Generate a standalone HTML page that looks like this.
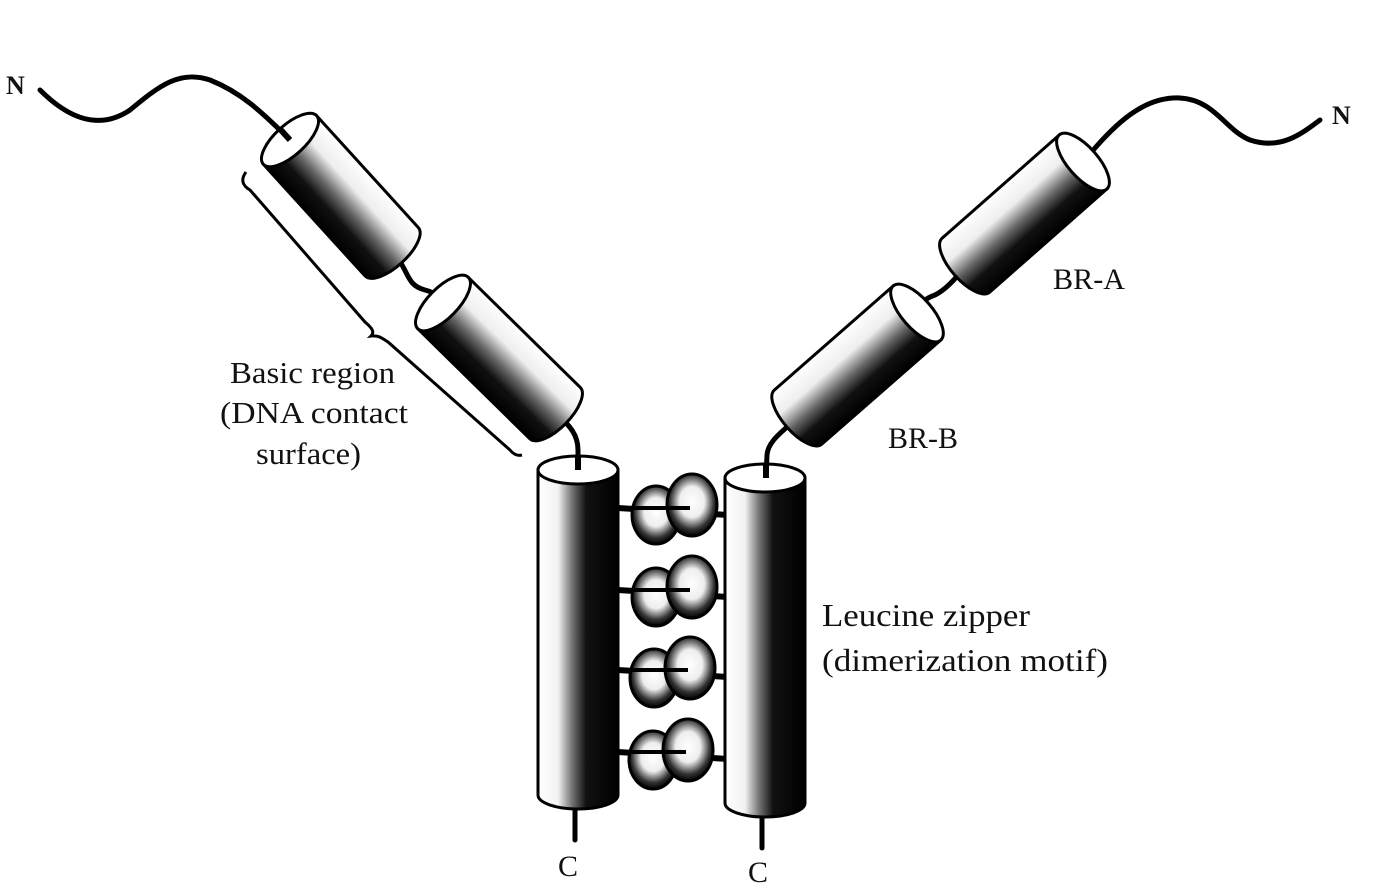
<!DOCTYPE html>
<html><head><meta charset="utf-8"><style>
html,body{margin:0;padding:0;background:#fff;}
svg{display:block;}
text{font-family:"Liberation Serif",serif;fill:#111;}
</style></head><body>
<svg width="1398" height="888" viewBox="0 0 1398 888" xmlns="http://www.w3.org/2000/svg">
<defs>
<linearGradient id="gR" x1="0" y1="0" x2="1" y2="0">
<stop offset="0" stop-color="#fff"/><stop offset="0.25" stop-color="#f2f2f2"/><stop offset="0.42" stop-color="#777"/><stop offset="0.6" stop-color="#111"/><stop offset="1" stop-color="#000"/>
</linearGradient>
<linearGradient id="gL" x1="1" y1="0" x2="0" y2="0">
<stop offset="0" stop-color="#fff"/><stop offset="0.3" stop-color="#eee"/><stop offset="0.55" stop-color="#666"/><stop offset="0.75" stop-color="#111"/><stop offset="1" stop-color="#000"/>
</linearGradient>
<linearGradient id="gT" x1="0" y1="0" x2="1" y2="0">
<stop offset="0" stop-color="#fff"/><stop offset="0.3" stop-color="#eee"/><stop offset="0.55" stop-color="#666"/><stop offset="0.75" stop-color="#111"/><stop offset="1" stop-color="#000"/>
</linearGradient>
<radialGradient id="bead" cx="0.5" cy="0.45" r="0.55">
<stop offset="0" stop-color="#fff"/><stop offset="0.45" stop-color="#eee"/><stop offset="0.8" stop-color="#333"/><stop offset="1" stop-color="#000"/>
</radialGradient>
</defs>

<g fill="none" stroke="#000" stroke-width="5" stroke-linecap="round">
<path d="M40,90 C70,120 100,130 130,110 C160,85 180,70 210,80 C240,92 260,110 290,140"/>
<path d="M1320,120 C1300,135 1280,150 1250,140 C1225,130 1215,100 1180,98 C1140,96 1110,130 1083,162"/>
<path d="M392,252 C410,270 405,285 425,290 C440,294 440,300 443,303"/>
<path d="M966,265 C955,280 945,290 935,295 C920,300 920,308 917,313"/>
<path d="M555,413 C570,425 578,435 578,450 L578,470"/>
<path d="M798,417 C785,430 768,440 767,455 L766,478"/>
<path d="M575,800 L575,840"/>
<path d="M762,808 L762,848"/>
</g>

<path d="M246,172 C240,180 243,186 250,190 L365,322 C372,328 375,332 371,336 C378,335 382,338 388,342 L510,450 C514,455 518,456 522,455" fill="none" stroke="#000" stroke-width="3"/>

<g transform="translate(290,140) rotate(-42.3)">
<path d="M-36,0 L-36,151 A36,15 0 0 0 36,151 L36,0 Z" fill="url(#gL)" stroke="#000" stroke-width="3"/>
<ellipse cx="0" cy="0" rx="36" ry="15" fill="#fff" stroke="#000" stroke-width="3"/>
<line x1="0" y1="-14" x2="0" y2="0" stroke="#000" stroke-width="6"/>
</g>
<g transform="translate(443,303) rotate(-45.5)">
<path d="M-36,0 L-36,157 A36,15 0 0 0 36,157 L36,0 Z" fill="url(#gL)" stroke="#000" stroke-width="3"/>
<ellipse cx="0" cy="0" rx="36" ry="15" fill="#fff" stroke="#000" stroke-width="3"/>
</g>
<g transform="translate(1083,162) rotate(48.6)">
<path d="M-36,0 L-36,156 A36,15 0 0 0 36,156 L36,0 Z" fill="url(#gT)" stroke="#000" stroke-width="3"/>
<ellipse cx="0" cy="0" rx="36" ry="15" fill="#fff" stroke="#000" stroke-width="3"/>
</g>
<g transform="translate(917,313) rotate(48.8)">
<path d="M-36,0 L-36,158 A36,15 0 0 0 36,158 L36,0 Z" fill="url(#gT)" stroke="#000" stroke-width="3"/>
<ellipse cx="0" cy="0" rx="36" ry="15" fill="#fff" stroke="#000" stroke-width="3"/>
</g>

<g stroke="#000" stroke-width="6">
<line x1="618" y1="508" x2="728" y2="515"/>
<line x1="618" y1="590" x2="728" y2="597"/>
<line x1="618" y1="670" x2="728" y2="677"/>
<line x1="618" y1="752" x2="728" y2="759"/>
</g>
<g stroke="#000" stroke-width="3" fill="url(#bead)">
<ellipse cx="656" cy="515" rx="24" ry="29"/><ellipse cx="692" cy="505" rx="25" ry="31"/>
<ellipse cx="656" cy="597" rx="24" ry="29"/><ellipse cx="692" cy="587" rx="25" ry="31"/>
<ellipse cx="654" cy="678" rx="24" ry="29"/><ellipse cx="690" cy="668" rx="25" ry="31"/>
<ellipse cx="653" cy="760" rx="24" ry="29"/><ellipse cx="688" cy="750" rx="25" ry="31"/>
</g>
<g stroke="#000" stroke-width="4">
<line x1="618" y1="508" x2="690" y2="508"/>
<line x1="618" y1="590" x2="690" y2="590"/>
<line x1="618" y1="670" x2="688" y2="670"/>
<line x1="618" y1="752" x2="686" y2="752"/>
</g>

<g transform="translate(578,470)">
<path d="M-40,0 L-40,325 A40,14 0 0 0 40,325 L40,0 Z" fill="url(#gR)" stroke="#000" stroke-width="3"/>
<ellipse cx="0" cy="0" rx="40" ry="14" fill="#fff" stroke="#000" stroke-width="3"/>
<line x1="0" y1="-14" x2="0" y2="0" stroke="#000" stroke-width="6"/>
</g>
<g transform="translate(765,478)">
<path d="M-40,0 L-40,325 A40,14 0 0 0 40,325 L40,0 Z" fill="url(#gR)" stroke="#000" stroke-width="3"/>
<ellipse cx="0" cy="0" rx="40" ry="14" fill="#fff" stroke="#000" stroke-width="3"/>
<line x1="1" y1="-14" x2="1" y2="0" stroke="#000" stroke-width="6"/>
</g>

<text x="6" y="94" font-size="26" font-weight="bold">N</text>
<text x="1332" y="124" font-size="26" font-weight="bold">N</text>
<text x="230" y="383" font-size="31" textLength="165" lengthAdjust="spacingAndGlyphs">Basic region</text>
<text x="220" y="423" font-size="31" textLength="188" lengthAdjust="spacingAndGlyphs">(DNA contact</text>
<text x="256" y="464" font-size="31" textLength="105" lengthAdjust="spacingAndGlyphs">surface)</text>
<text x="1053" y="289" font-size="30" textLength="72" lengthAdjust="spacingAndGlyphs">BR-A</text>
<text x="888" y="448" font-size="30" textLength="70" lengthAdjust="spacingAndGlyphs">BR-B</text>
<text x="822" y="626" font-size="32" textLength="208" lengthAdjust="spacingAndGlyphs">Leucine zipper</text>
<text x="822" y="671" font-size="32" textLength="286" lengthAdjust="spacingAndGlyphs">(dimerization motif)</text>
<text x="558" y="876" font-size="30">C</text>
<text x="748" y="882" font-size="30">C</text>
</svg>
</body></html>
